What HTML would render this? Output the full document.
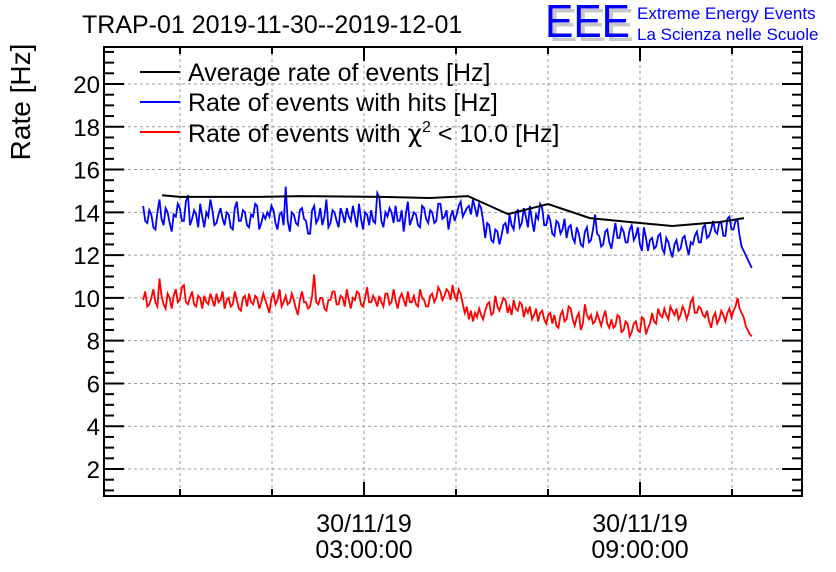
<!DOCTYPE html>
<html><head><meta charset="utf-8"><style>
body{margin:0;background:#fff;}
svg{display:block;font-family:"Liberation Sans",sans-serif;}
</style></head><body>
<svg id="chart" width="836" height="572" viewBox="0 0 836 572">
<text x="82" y="33" font-size="25">TRAP-01 2019-11-30--2019-12-01</text>
<g>
<text x="549" y="41" font-size="46" fill="#c8c8c8" textLength="85" lengthAdjust="spacingAndGlyphs">EEE</text>
<text x="545" y="37" font-size="46" fill="#0000ff" textLength="85" lengthAdjust="spacingAndGlyphs">EEE</text>
<text x="637" y="19" font-size="17" fill="#0000ff">Extreme Energy Events</text>
<text x="637" y="40" font-size="17" fill="#0000ff">La Scienza nelle Scuole</text>
</g>
<text transform="translate(30,102) rotate(-90)" text-anchor="middle" font-size="28">Rate [Hz]</text>
<g id="grid"></g><g id="axes"></g><g id="series"></g>
<g font-size="25">
<g><line x1="140" y1="72" x2="180" y2="72" stroke="#000" stroke-width="2"/><text x="188" y="81">Average rate of events [Hz]</text></g>
<g><line x1="140" y1="102" x2="180" y2="102" stroke="#00f" stroke-width="2"/><text x="188" y="111">Rate of events with hits [Hz]</text></g>
<g><line x1="140" y1="132" x2="180" y2="132" stroke="#f00" stroke-width="2"/><text x="188" y="142">Rate of events with <tspan font-family="'DejaVu Sans',sans-serif">χ</tspan><tspan font-size="16" dy="-10">2</tspan><tspan dy="10"> &lt; 10.0 [Hz]</tspan></text></g>
</g>
</svg>
<script>
const seriesStart=-1.8, seriesStep=0.04425;
const blueVals=[14.3,13.6,13.5,14.1,13.9,13.3,13.2,14.0,14.6,13.7,13.4,14.2,14.0,13.5,13.1,13.9,13.8,14.4,14.2,13.6,
13.6,14.5,14.8,13.4,13.7,14.1,13.9,13.3,14.4,13.8,13.3,14.0,13.8,14.6,14.1,13.4,13.5,13.9,14.2,13.7,
13.4,14.0,13.9,13.3,13.2,14.2,14.5,13.6,13.6,14.1,14.0,13.4,13.3,13.9,13.8,14.4,14.3,13.2,13.5,13.9,
13.7,14.0,13.8,14.3,14.1,13.5,13.2,13.9,14.0,13.4,15.2,13.6,13.1,14.0,13.9,13.5,13.4,14.1,14.2,13.7,
13.6,13.0,13.0,14.1,14.3,13.5,13.7,14.2,13.4,13.8,14.6,13.3,13.5,14.1,14.0,13.6,13.3,14.2,13.9,13.5,
14.2,13.8,13.6,14.3,13.8,13.3,14.4,13.7,13.2,14.0,13.9,13.4,14.1,13.6,13.5,14.9,14.7,13.6,13.3,14.0,
13.8,14.2,14.0,13.5,14.3,13.6,13.6,14.1,13.1,13.9,14.5,13.4,13.7,14.0,13.9,13.4,13.3,14.3,14.2,13.7,
13.5,14.1,14.0,13.5,13.6,14.4,14.4,13.7,13.8,14.1,13.2,13.8,14.1,13.6,13.9,14.3,14.5,13.8,14.0,14.2,
14.3,13.9,14.6,14.2,13.8,14.4,14.2,13.6,12.8,13.5,
13.4,12.7,12.6,13.2,13.1,12.5,12.9,13.4,13.5,13.0,
13.9,13.4,13.2,14.0,14.1,13.3,13.5,14.2,13.8,13.3,
14.3,13.6,13.1,13.9,13.7,14.4,14.2,13.4,13.4,13.9,
13.6,13.0,12.9,13.6,13.5,13.0,13.2,13.7,12.8,13.3,
13.4,12.8,12.6,13.3,13.0,12.5,12.4,13.1,13.3,12.6,
12.7,13.2,13.9,13.0,12.9,12.4,12.5,13.1,13.2,12.6,
12.3,12.9,13.5,12.8,12.8,13.3,13.1,12.6,12.6,13.2,
13.4,12.7,12.9,13.3,12.5,12.2,13.3,12.8,12.2,12.7,
12.8,12.3,12.4,12.9,13.0,12.3,12.1,12.8,12.6,12.2,
11.9,12.5,12.7,12.2,12.3,12.8,12.9,12.4,12.0,12.6,
12.5,12.9,13.1,12.6,12.6,13.3,13.4,12.8,12.9,13.2,
13.6,13.1,13.0,13.5,13.5,12.9,12.9,13.7,13.8,13.2,
13.2,13.6,13.6,12.9,12.4,12.2,12.0,11.8,11.6,11.4];
const redVals=[9.9,10.3,9.6,9.7,10.0,10.4,9.8,9.6,10.9,10.1,9.7,9.5,10.2,10.0,9.5,10.1,10.4,9.8,9.9,10.5,
10.6,9.8,9.7,10.0,10.3,9.7,9.6,10.1,10.0,9.5,10.1,9.8,9.7,10.2,9.9,9.6,10.2,9.8,9.9,10.3,
9.5,9.9,10.0,9.6,9.7,10.3,9.9,9.5,9.4,10.0,10.1,9.6,10.2,9.8,9.7,10.1,10.0,9.5,9.8,10.2,
9.9,9.6,9.3,10.0,10.2,9.7,9.9,10.4,9.6,9.8,10.1,9.7,9.8,10.2,9.9,9.5,9.2,9.9,10.3,9.8,
9.8,9.5,9.6,10.1,11.1,9.8,9.7,10.0,10.0,9.5,9.4,9.9,9.9,10.3,10.3,9.7,9.7,10.1,10.0,9.6,
10.4,9.9,9.5,10.0,9.9,10.3,10.2,9.7,9.6,10.0,10.5,9.8,9.8,10.1,9.9,9.6,10.1,9.8,9.6,10.2,
10.2,9.7,9.8,10.4,9.9,9.5,10.0,10.2,9.9,9.6,10.3,9.8,9.8,10.1,9.7,9.6,10.4,10.0,9.9,9.6,
9.6,10.1,10.2,9.8,10.0,10.5,10.3,9.9,10.1,10.4,10.3,9.9,10.6,10.1,9.9,10.4,10.2,9.7,9.3,9.6,
9.0,9.4,8.9,9.3,9.1,9.5,9.2,9.0,9.4,9.7,
9.8,9.2,9.3,10.1,9.6,9.4,9.7,10.0,9.9,9.3,
9.6,9.2,9.9,9.5,9.4,9.8,9.7,9.1,9.5,9.3,
9.6,9.0,9.2,9.5,8.9,9.3,9.4,9.0,8.8,9.2,
9.3,8.8,9.2,8.7,8.6,9.2,9.4,8.9,9.0,9.6,
9.5,9.0,8.7,9.1,9.3,8.5,8.8,9.7,9.2,9.0,
9.2,8.8,8.9,9.3,9.0,8.7,9.1,9.4,8.8,8.6,
9.0,8.6,8.7,9.2,9.1,8.4,8.5,8.9,8.8,8.2,
8.4,8.8,8.9,8.5,8.4,9.1,9.0,8.3,8.6,8.8,
9.3,8.9,8.8,9.5,9.2,9.1,9.5,9.2,9.0,9.6,
9.4,9.2,9.5,9.0,9.2,9.6,9.4,9.0,9.3,9.8,
10.0,9.3,9.3,9.6,9.5,9.2,9.1,9.4,8.9,8.6,
9.1,9.3,8.8,9.0,9.4,9.2,8.9,9.3,9.5,9.1,
9.4,9.6,10.0,9.5,9.3,9.1,8.7,8.5,8.3,8.2];
const avgTimes=[-1.39,-1.0,0.74,1.61,3.35,4.43,5.26,6.13,7.0,7.91,9.0,9.7,10.74,11.26];
const avgVals=[14.8,14.72,14.72,14.76,14.72,14.67,14.76,13.92,14.39,13.73,13.5,13.36,13.55,13.73];
const yTicks=[2,4,6,8,10,12,14,16,18,20];
const xMajor=[3,9];
const xMinor=[-1,1,5,7,11];
const xDates=["30/11/19","30/11/19"];
const xTimes=["03:00:00","09:00:00"];

const L=104,R=802,T=47,B=496;
const yMin=(511.8-B)/21.39, yMax=(511.8-T)/21.39;
const X=t=>226+t*46;
const Y=v=>B-(v-yMin)/(yMax-yMin)*(B-T);
const NS="http://www.w3.org/2000/svg";
function mk(tag,parent,attrs){const e=document.createElementNS(NS,tag);for(const k in attrs)e.setAttribute(k,attrs[k]);parent.appendChild(e);return e;}
const grid=document.getElementById('grid'),axes=document.getElementById('axes'),series=document.getElementById('series');
yTicks.forEach(v=>{
 const g=mk('line',grid,{x1:L,x2:R,y1:Y(v),y2:Y(v),stroke:'#999','stroke-dasharray':'3,3','stroke-width':1});
 
 
 const t=mk('text',axes,{x:L-4,y:Y(v)+9,'text-anchor':'end','font-size':24});
 t.textContent=v;
 
 
});
for(let v=1;v<=21.5;v+=0.5){
 const maj=Math.abs(v/2-Math.round(v/2))<1e-6;
 const len=maj?20:10;
 mk('line',axes,{x1:L,x2:L+len,y1:Y(v),y2:Y(v),stroke:'#000','stroke-width':2});
 mk('line',axes,{x1:R,x2:R-len,y1:Y(v),y2:Y(v),stroke:'#000','stroke-width':2});
}
xMajor.concat(xMinor).forEach(t=>{
 const g=mk('line',grid,{x1:X(t),x2:X(t),y1:T,y2:B,stroke:'#999','stroke-dasharray':'3,3','stroke-width':1});
 
 
 const len=xMajor.includes(t)?14:7;
 mk('line',axes,{x1:X(t),x2:X(t),y1:B,y2:B-len,stroke:'#000','stroke-width':2});
 mk('line',axes,{x1:X(t),x2:X(t),y1:T,y2:T+len,stroke:'#000','stroke-width':2});
});
xMajor.forEach((t,i)=>{
 const a=mk('text',axes,{x:X(t),y:532,'text-anchor':'middle','font-size':25});a.textContent=xDates[i];
 
 
 const b=mk('text',axes,{x:X(t),y:558,'text-anchor':'middle','font-size':25});b.textContent=xTimes[i];
 
 
});
const fr=mk('rect',axes,{x:L,y:T,width:R-L,height:B-T,fill:'none',stroke:'#000','stroke-width':2});


function line(vals,times,color,name,w){
 const p=vals.map((v,i)=>X(times(i)).toFixed(1)+','+Y(v).toFixed(1)).join(' ');
 const e=mk('polyline',series,{points:p,fill:'none',stroke:color,'stroke-width':w,'stroke-linejoin':'miter'});
 
 
}
line(blueVals,i=>seriesStart+i*seriesStep,'#00f','hits-rate-line',1.8);
line(redVals,i=>seriesStart+i*seriesStep,'#f00','chi2-rate-line',1.8);
line(avgVals,i=>avgTimes[i],'#000','average-rate-line',2);
</script>
</body></html>
